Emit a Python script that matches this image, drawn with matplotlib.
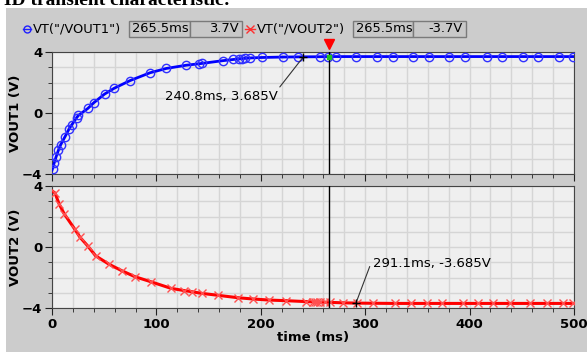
import matplotlib
matplotlib.use("Agg")
import matplotlib.pyplot as plt
from matplotlib.patches import Rectangle

# VOUT1 (rising), marker times in ms and volts
t_vout1 = [0.0, 0.5, 2.2, 3.8, 6.1, 8.3, 12.5, 16.3, 18.9, 23.7, 25.3, 34.3, 40.0,
           50.3, 59.5, 74.9, 94.0, 109.4, 128.3, 141.0, 143.4, 163.5, 173.7, 179.4,
           181.7, 184.8, 189.6, 200.8, 221.6, 235.9, 256.7, 264.7, 272.0, 291.2,
           311.0, 326.3, 346.1, 360.8, 380.6, 395.6, 416.4, 431.3, 450.8, 465.8,
           485.6, 498.8, 500.0]
v_vout1 = [-3.75, -3.65, -3.25, -2.90, -2.45, -2.08, -1.55, -1.05, -0.78, -0.30,
           -0.16, 0.30, 0.67, 1.24, 1.62, 2.13, 2.64, 2.92, 3.13, 3.23, 3.25, 3.43,
           3.51, 3.55, 3.57, 3.58, 3.61, 3.64, 3.67, 3.68, 3.69, 3.70, 3.70, 3.70,
           3.70, 3.70, 3.70, 3.70, 3.70, 3.70, 3.70, 3.70, 3.70, 3.70, 3.70, 3.70,
           3.70]

# VOUT2 (falling)
t_vout2 = [0.0, 2.9, 6.7, 11.8, 22.0, 26.8, 34.2, 41.8, 54.6, 66.7, 79.5, 94.8,
           113.9, 126.7, 133.8, 143.4, 159.3, 178.5, 192.8, 208.2, 224.1, 243.3,
           249.7, 251.9, 254.1, 256.7, 261.5, 266.3, 278.4, 291.8, 307.8, 328.5,
           343.6, 358.9, 373.3, 394.0, 408.4, 422.7, 438.7, 457.9, 473.9, 489.8,
           498.8, 500.0]
v_vout2 = [3.68, 3.54, 2.84, 2.16, 1.15, 0.64, 0.07, -0.58, -1.13, -1.55, -1.95,
           -2.28, -2.71, -2.86, -2.93, -3.04, -3.17, -3.33, -3.41, -3.48, -3.52,
           -3.58, -3.60, -3.60, -3.61, -3.61, -3.62, -3.63, -3.66, -3.68, -3.69,
           -3.70, -3.70, -3.70, -3.70, -3.70, -3.70, -3.70, -3.70, -3.70, -3.70,
           -3.70, -3.70, -3.70]

cursor_t = 265.5
ann1 = (240.8, 3.685)
ann2 = (291.1, -3.685)

W, H = 587, 352
fig = plt.figure(figsize=(W / 100, H / 100), dpi=100, facecolor="white")


def fx(x):
    return x / W


def fy(y):
    return 1 - y / H


# grey panel and the clipped caption above it
fig.patches.append(Rectangle((fx(6), 0), 1 - fx(6), fy(8), transform=fig.transFigure,
                             facecolor="#cccccc", edgecolor="none", zorder=-5))
fig.text(fx(4), fy(5), "ID transient characteristic:", family="Liberation Serif",
         weight="bold", fontsize=14, va="baseline", ha="left")

# legend strip
legend_font = dict(fontsize=9.4, family="DejaVu Sans", va="center")
ly = fy(29)
fig.lines.append(plt.Line2D([fx(23), fx(31)], [ly, ly], color="#2020ff", lw=1,
                            transform=fig.transFigure))
fig.lines.append(plt.Line2D([fx(27)], [ly], marker="o", mfc="none", mec="#2020ff",
                            ms=5, transform=fig.transFigure))
fig.text(fx(33), ly, 'VT("/VOUT1")', ha="left", **legend_font)
fig.lines.append(plt.Line2D([fx(245), fx(255)], [ly, ly], color="#ff3030", lw=1,
                            transform=fig.transFigure))
fig.lines.append(plt.Line2D([fx(250)], [ly], marker="x", color="#ff3030",
                            ms=6, transform=fig.transFigure))
fig.text(fx(257), ly, 'VT("/VOUT2")', ha="left", **legend_font)
for x0, x1, txt, align in [(129, 190, "265.5ms", "left"), (190, 242, "3.7V", "right"),
                           (353, 413, "265.5ms", "left"), (413, 466, "-3.7V", "right")]:
    fig.patches.append(Rectangle((fx(x0), fy(37)), fx(x1 - x0), 16 / H,
                                 transform=fig.transFigure, facecolor="#c8c8c8",
                                 edgecolor="#7a7a7a", lw=1))
    tx = fx(x0 + 3) if align == "left" else fx(x1 - 3)
    fig.text(tx, ly, txt, ha=align, **legend_font)

ax1 = fig.add_axes([fx(52), fy(174), fx(522), 122 / H])
ax2 = fig.add_axes([fx(52), fy(308), fx(522), 122 / H])

for ax in (ax1, ax2):
    ax.set_facecolor("#efefef")
    ax.set_xlim(0, 500)
    ax.set_ylim(-4, 4)
    ax.set_xticks([0, 100, 200, 300, 400, 500])
    ax.set_xticks(range(0, 501, 20), minor=True)
    ax.set_yticks([-4, 0, 4])
    ax.set_yticks(range(-4, 5), minor=True)
    ax.grid(True, which="both", color="#d5d5d5", lw=1)
    ax.set_axisbelow(True)
    ax.tick_params(which="both", direction="out", color="#222222", labelsize=9.5,
                   pad=2)
    ax.tick_params(which="major", length=5)
    ax.tick_params(which="minor", length=3)
    for s in ax.spines.values():
        s.set_color("#444444")
    for lab in ax.get_yticklabels() + ax.get_xticklabels():
        lab.set_fontweight("bold")
    ax.axvline(cursor_t, color="black", lw=1, zorder=4)
    ax.yaxis.set_label_coords(-30 / 522, 0.5)

ax1.tick_params(labelbottom=False)
ax1.set_ylabel("VOUT1 (V)", fontsize=9.5, weight="bold")
ax2.set_ylabel("VOUT2 (V)", fontsize=9.5, weight="bold")
ax2.set_xlabel("time (ms)", fontsize=9.5, weight="bold", labelpad=0)

ax1.plot(t_vout1, v_vout1, color="#0000ff", lw=2, zorder=3)
ax1.plot(t_vout1[1:-1], v_vout1[1:-1], ls="none", marker="o", mfc="none",
         mec="#3030ff", ms=6, mew=1, zorder=3)
ax2.plot(t_vout2, v_vout2, color="#ff0000", lw=2.2, zorder=3)
ax2.plot(t_vout2[1:-1], v_vout2[1:-1], ls="none", marker="x", color="#ff5050",
         ms=6, mew=1, zorder=3)

# cursor markers
ax1.plot([cursor_t], [4.5], marker="v", color="red", ms=7, clip_on=False, zorder=5)
ax1.plot([cursor_t], [3.7], marker="s", color="#20c020", ms=3, zorder=5)

# point annotations
ax1.plot([ann1[0]], [ann1[1]], marker="+", color="black", ms=6, zorder=5)
ax1.annotate("240.8ms, 3.685V", xy=ann1, xytext=(108, 1.1), textcoords="data",
             fontsize=9.5, va="center", ha="left",
             arrowprops=dict(arrowstyle="-", color="#333333", lw=0.8,
                             shrinkA=0, shrinkB=0, relpos=(1.0, 1.0)))
ax2.plot([ann2[0]], [ann2[1]], marker="+", color="black", ms=6, zorder=5)
ax2.annotate("291.1ms, -3.685V", xy=ann2, xytext=(307, -1.05), textcoords="data",
             fontsize=9.5, va="center", ha="left",
             arrowprops=dict(arrowstyle="-", color="#333333", lw=0.8,
                             shrinkA=0, shrinkB=0, relpos=(0.0, 0.8)))

fig.savefig("out.png", dpi=100, facecolor="white")
